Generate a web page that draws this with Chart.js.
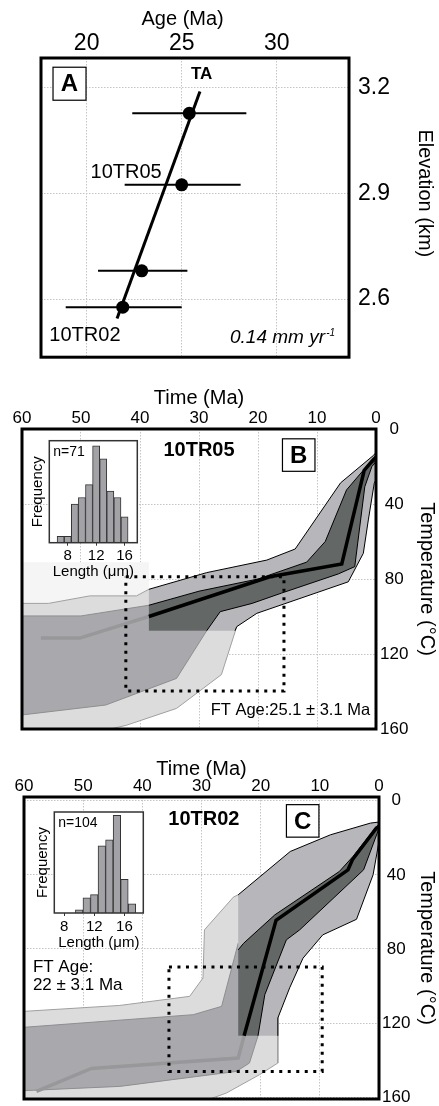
<!DOCTYPE html>
<html>
<head>
<meta charset="utf-8">
<script src="https://cdn.jsdelivr.net/npm/chart.js@4.4.1/dist/chart.umd.min.js"></script>
<style>
  html, body { margin: 0; padding: 0; background: #fff; overflow: hidden; }
  #page { position: relative; width: 439px; height: 1106px; overflow: hidden; background: #fff; }
  canvas { position: absolute; left: 0; }
</style>
</head>
<body>
<div id="page">
  <canvas id="chartA" width="439" height="380" style="top:0px"></canvas>
  <canvas id="chartB" width="439" height="390" style="top:370px"></canvas>
  <canvas id="chartC" width="439" height="380" style="top:740px"></canvas>
  <canvas id="histB" width="125" height="148" style="left:20px;top:436px"></canvas>
  <canvas id="histC" width="125" height="148" style="left:25px;top:807px"></canvas>
</div>
<script>
// ---- Panel A: age vs elevation ----
const aAge = [25.4, 25.0, 22.9, 21.9];
const aElev = [3.127, 2.924, 2.680, 2.577];
const aAgeLo = [22.4, 22.0, 20.6, 18.9];
const aAgeHi = [28.4, 28.1, 25.3, 25.0];
const aFit = [[21.6, 2.545], [25.96, 3.189]];
const aAgeTicks = [20, 25, 30];
const aElevTicks = [2.6, 2.9, 3.2];

// ---- Panels B / C: time-temperature histories [Ma, degC] ----
const timeTicks = [60, 50, 40, 30, 20, 10, 0];
const tempTicks = [0, 40, 80, 120, 160];

// 10TR05
const bFaint = [[60, 71], [38.5, 71], [38.5, 99.7], [60, 99.7]];
const bAccOld = [[60, 93], [55.5, 93], [48.5, 89], [40.6, 89], [38.5, 85.5], [24, 95], [23.6, 105.4], [26.2, 131], [33.8, 149], [42.3, 158], [45, 160], [60, 160]];
const bGoodOld = [[60, 99.7], [50, 99.7], [38.5, 94], [32, 100], [28.7, 107.6], [33.8, 133], [45.8, 147.2], [60, 152.5]];
const bPathOld = [[56.8, 111.5], [50.2, 111.5], [38.5, 100]];
const bAccTop = [[38.5, 85.5], [28.7, 76.6], [18.5, 69.9], [13.7, 64], [6.0, 28.7], [0.4, 14], [0, 12.5]];
const bAccBot = [[23.9, 107.6], [23.6, 105.4], [20.2, 98.3], [4.7, 81.5], [2.15, 66.3], [1.3, 48.5], [0.3, 29], [0, 27]];
const bGoodTop = [[38.5, 94], [30, 86.5], [20, 80], [11.75, 71], [8.6, 60], [5, 32.5], [2.15, 22], [0, 16.5]];
const bGoodBot = [[28.7, 107.6], [26.4, 97.4], [21, 93], [16, 87.5], [6.4, 77.3], [3.6, 73.4], [1.9, 30.8], [0.7, 20], [0, 17.5]];
const bPath = [[38.5, 100], [18, 78.8], [5.8, 72], [2, 22], [0.5, 16.5], [0, 15]];
const bCorner = [38.5, 107.6];
const bWindow = [[42.4, 78.8], [15.6, 78.8], [15.6, 139.7], [42.4, 139.7], [42.4, 78.8]];

// 10TR02
const cAccOld = [[60, 113.7], [43.8, 110.5], [32, 105.6], [29.75, 95.7], [29.5, 69.7], [24.6, 52], [23.8, 50.8], [17.1, 100], [17.1, 126.9], [17.1, 141.6], [20.2, 147.9], [25.8, 157.8], [28.6, 161], [60, 161]];
const cGoodOld = [[60, 122.3], [31.4, 115.5], [26.6, 111], [23.8, 77], [21, 110], [20.45, 126.9], [21.9, 141.6], [24.1, 146.1], [43.8, 154.2], [60, 156.5]];
const cPathOld = [[57.9, 156.9], [48.6, 144.5], [23.8, 138.9], [22.8, 126.9]];
const cAccTop = [[23.8, 50.8], [15.0, 27.4], [8.2, 18.4], [1.45, 12.1], [0, 11.5]];
const cAccBot = [[17.1, 126.9], [17.1, 117.3], [15.1, 101], [12.85, 85], [9.5, 72.4], [3.8, 64], [1.0, 40], [0, 22]];
const cGoodTop = [[23.8, 80.5], [22.9, 77], [17.6, 61.6], [6.7, 38.2], [4.4, 30.1], [0.45, 14], [0, 13]];
const cGoodBot = [[20.45, 126.9], [19.3, 104.7], [15.66, 75.1], [13.4, 69.7], [2.6, 37.3], [0.3, 17.5], [0, 15]];
const cPath = [[22.8, 126.9], [17.4, 64.5], [5.24, 37.3], [4.5, 31.9], [0.45, 14.8], [0, 14]];
const cCorner = [23.8, 126.9];
const cWindow = [[35.5, 89.8], [9.6, 89.8], [9.6, 146.1], [35.5, 146.1], [35.5, 89.8]];

// track length histograms
const bLen = [7, 8, 9, 10, 11, 12, 13, 14, 15, 16];
const bCount = [1, 1, 6, 7, 9, 15, 13, 8, 7, 4];
const cLen = [10, 11, 12, 13, 14, 15, 16, 17];
const cCount = [1, 5, 6, 22, 24, 32, 11, 3];
const lenTicks = [8, 12, 16];

const FF = "'Liberation Sans', Arial, Helvetica, sans-serif";
Chart.defaults.font.family = FF;
Chart.defaults.color = '#000';
const GRID = '#c4c4c4';
const LIGHT = '#dcdcdc', MID = '#a9a9ad', ACC = '#b7b7bb', GOOD = '#636866';

function fixedTicks(values) {
    return s => { s.ticks = values.map(v => ({ value: v })); };
}

function poly(data, fill, border, bw) {
    return { data, showLine: true, fill: 'shape', backgroundColor: fill,
        borderColor: border || 'rgba(0,0,0,0)', borderWidth: bw || 1, pointRadius: 0 };
}

function path(data, color, width, dash) {
    return { data, showLine: true, fill: false, borderColor: color, borderWidth: width,
        borderDash: dash || [], borderCapStyle: 'butt', pointRadius: 0 };
}

// bottom-to-top list -> chart.js order (lower order drawn on top)
function stack(list) {
    return list.map((d, i) => Object.assign(d, { order: list.length - i }));
}

// frame, panel letter boxes and annotations
function overlay(boxes, texts) {
    return {
        id: 'overlay',
        afterDatasetsDraw(chart) {
            const { ctx, chartArea: a, scales: { x, y } } = chart;
            ctx.save();
            boxes.forEach(b => {
                const cx = x.getPixelForValue(b.x), cy = y.getPixelForValue(b.y), h = b.size / 2;
                ctx.fillStyle = '#fff';
                ctx.fillRect(cx - h, cy - h, b.size, b.size);
                ctx.lineWidth = 1.2;
                ctx.strokeStyle = '#000';
                ctx.strokeRect(cx - h, cy - h, b.size, b.size);
                ctx.fillStyle = '#000';
                ctx.font = 'bold 24px ' + FF;
                ctx.textAlign = 'center';
                ctx.textBaseline = 'middle';
                ctx.fillText(b.text, cx, cy + 1);
            });
            texts.forEach(t => {
                const px = t.px !== undefined ? t.px : x.getPixelForValue(t.x);
                const py = t.py !== undefined ? t.py : y.getPixelForValue(t.y);
                ctx.save();
                ctx.translate(px, py);
                if (t.rotate) ctx.rotate(t.rotate * Math.PI / 180);
                ctx.font = t.font;
                ctx.fillStyle = '#000';
                ctx.textAlign = t.align || 'center';
                ctx.textBaseline = 'middle';
                ctx.fillText(t.text, 0, 0);
                ctx.restore();
            });
            ctx.lineWidth = 3;
            ctx.strokeStyle = '#000';
            ctx.strokeRect(a.left, a.top, a.right - a.left, a.bottom - a.top);
            ctx.restore();
        }
    };
}

const common = {
    responsive: false,
    animation: false,
    events: [],
    plugins: { legend: { display: false }, tooltip: { enabled: false } }
};

// ---------- Panel A ----------
const errorBars = aAge.map((_, i) => path([[aAgeLo[i], aElev[i]], [aAgeHi[i], aElev[i]]], '#000', 2));
new Chart(document.getElementById('chartA'), {
    type: 'scatter',
    data: {
        datasets: stack([
            ...errorBars,
            path(aFit, '#000', 3),
            { data: aAge.map((v, i) => [v, aElev[i]]), pointRadius: 6.5, backgroundColor: '#000', borderColor: '#000', borderWidth: 0 }
        ])
    },
    options: Object.assign({}, common, {
        layout: { padding: { left: 41, bottom: 21 } },
        scales: {
            x: {
                type: 'linear', position: 'top', min: 17.6, max: 33.8,
                afterFit: s => { s.height = 58; }, afterBuildTicks: fixedTicks(aAgeTicks),
                ticks: { padding: 1, font: { size: 23 }, maxRotation: 0 },
                grid: { color: GRID, drawTicks: false }, border: { display: false, dash: [1.5, 1.5] }
            },
            y: {
                type: 'linear', position: 'right', min: 2.435, max: 3.284,
                afterFit: s => { s.width = 90; }, afterBuildTicks: fixedTicks(aElevTicks),
                ticks: { padding: 9, font: { size: 23 }, callback: v => v.toFixed(1) },
                grid: { color: GRID, drawTicks: false }, border: { display: false, dash: [1.5, 1.5] }
            }
        }
    }),
    plugins: [overlay(
        [{ text: 'A', x: 19.1, y: 3.211, size: 33 }],
        [
            { text: 'Age (Ma)', x: 25.05, py: 19, font: '20px ' + FF },
            { text: 'Elevation (km)', px: 425, y: 2.9, rotate: 90, font: '20px ' + FF },
            { text: 'TA', x: 26.05, y: 3.239, font: 'bold 17px ' + FF },
            { text: '10TR05', x: 23.95, y: 2.958, align: 'right', font: '20px ' + FF },
            { text: '10TR02', x: 18.04, y: 2.497, align: 'left', font: '20px ' + FF },
            { text: '0.14 mm yr', x: 32.54, y: 2.49, align: 'right', font: 'italic 19px ' + FF },
            { text: '-1', x: 32.6, y: 2.504, align: 'left', font: 'italic 10px ' + FF }
        ]
    )]
});

// ---------- Panels B and C ----------
function historyChart(id, d) {
    const accPoly = [...d.accTop, ...d.accBot.slice().reverse(), d.corner];
    const goodPoly = [...d.goodTop, ...d.goodBot.slice().reverse(), d.corner];
    const layers = [];
    if (d.faint) layers.push(poly(d.faint, '#f5f5f5'));
    layers.push(
        poly(d.accOld, LIGHT, '#a0a0a0', 1),
        poly(d.goodOld, MID, '#8e8e90', 1),
        path(d.pathOld, '#98989a', 3.5),
        poly(accPoly, ACC),
        path(d.accTop, '#000', 1),
        path(d.accBot, '#000', 1),
        poly(goodPoly, GOOD),
        path(d.goodTop, '#000', 1),
        path(d.goodBot, '#000', 1),
        path(d.path, '#000', 3.5),
        path(d.window, '#000', 3, [3, 5.5])
    );
    new Chart(document.getElementById(id), {
        type: 'scatter',
        data: { datasets: stack(layers) },
        options: Object.assign({}, common, {
            layout: { padding: { left: d.left, bottom: d.bottom } },
            scales: {
                x: {
                    type: 'linear', position: 'top', reverse: true, min: 0, max: 60,
                    afterFit: s => { s.height = d.top; }, afterBuildTicks: fixedTicks(timeTicks),
                    ticks: { padding: 0, font: { size: 17 }, maxRotation: 0, autoSkip: false },
                    grid: { color: GRID, drawTicks: false }, border: { display: false, dash: [1.5, 1.5] },
                    title: { display: true, text: 'Time (Ma)', font: { size: 20 }, padding: { top: d.titleTop, bottom: 0 } }
                },
                y: {
                    type: 'linear', position: 'right', reverse: true, min: d.yMin, max: d.yMax,
                    afterFit: s => { s.width = d.right; }, afterBuildTicks: fixedTicks(tempTicks),
                    ticks: { padding: d.tickPad, crossAlign: 'center', font: { size: 17 } },
                    grid: { color: GRID, drawTicks: false }, border: { display: false, dash: [1.5, 1.5] },
                    title: { display: true, text: 'Temperature (°C)', font: { size: 20 }, padding: { top: d.titleRight, bottom: 0 } }
                }
            }
        }),
        plugins: [overlay(d.boxes, d.texts)]
    });
}

historyChart('chartB', {
    faint: bFaint, accOld: bAccOld, goodOld: bGoodOld, pathOld: bPathOld,
    accTop: bAccTop, accBot: bAccBot, goodTop: bGoodTop, goodBot: bGoodBot,
    path: bPath, corner: bCorner, window: bWindow,
    left: 22, bottom: 31, top: 59, right: 63, titleTop: 16.7, titleRight: 0.7, tickPad: 4,
    yMin: 0, yMax: 160,
    boxes: [{ text: 'B', x: 13.1, y: 13.9, size: 32.5 }],
    texts: [
        { text: '10TR05', x: 30, y: 11.2, font: 'bold 20px ' + FF },
        { text: 'FT Age:25.1 ± 3.1 Ma', x: 1.0, y: 150.3, align: 'right', font: '16.5px ' + FF }
    ]
});

historyChart('chartC', {
    accOld: cAccOld, goodOld: cGoodOld, pathOld: cPathOld,
    accTop: cAccTop, accBot: cAccBot, goodTop: cGoodTop, goodBot: cGoodBot,
    path: cPath, corner: cCorner, window: cWindow,
    left: 24, bottom: 21, top: 57, right: 60, titleTop: 17.7, titleRight: 0, tickPad: 3,
    yMin: -2, yMax: 161,
    boxes: [{ text: 'C', x: 12.9, y: 10.9, size: 32.5 }],
    texts: [
        { text: '10TR02', x: 29.6, y: 10.3, font: 'bold 20px ' + FF },
        { text: 'FT Age:', x: 58.5, y: 89.8, align: 'left', font: '17px ' + FF },
        { text: '22 ± 3.1 Ma', x: 58.5, y: 99.7, align: 'left', font: '17px ' + FF }
    ]
});

// ---------- inset histograms ----------
function insetFrame(nText) {
    return {
        id: 'insetFrame',
        beforeDatasetsDraw(chart) {
            const { ctx, chartArea: a } = chart;
            ctx.save();
            ctx.fillStyle = '#fff';
            ctx.fillRect(a.left, a.top, a.right - a.left, a.bottom - a.top);
            ctx.restore();
        },
        afterDatasetsDraw(chart) {
            const { ctx, chartArea: a } = chart;
            ctx.save();
            ctx.lineWidth = 1.5;
            ctx.strokeStyle = '#333';
            ctx.strokeRect(a.left, a.top, a.right - a.left, a.bottom - a.top);
            ctx.fillStyle = '#000';
            ctx.font = '14px ' + FF;
            ctx.textAlign = 'left';
            ctx.textBaseline = 'middle';
            ctx.fillText(nText, a.left + 4, a.top + 11);
            ctx.restore();
        }
    };
}

function histogram(id, lens, counts, o) {
    new Chart(document.getElementById(id), {
        type: 'bar',
        data: {
            datasets: [{
                data: lens.map((x, i) => ({ x, y: counts[i] })),
                backgroundColor: '#a3a3a7', borderColor: '#333', borderWidth: 1,
                barPercentage: 1, categoryPercentage: 1
            }]
        },
        options: Object.assign({}, common, {
            layout: { padding: { top: o.top, right: o.right } },
            scales: {
                x: {
                    type: 'linear', min: o.xMin, max: o.xMax, offset: false,
                    afterFit: s => { s.height = o.xh; }, afterBuildTicks: fixedTicks(lenTicks),
                    ticks: { padding: o.tp, font: { size: 15 }, maxRotation: 0 },
                    grid: { offset: false, drawOnChartArea: false, tickLength: 3, color: '#333' },
                    border: { display: false },
                    title: { display: true, text: 'Length (μm)', font: { size: 15 }, padding: { top: 0, bottom: 3.5 } }
                },
                y: {
                    min: 0, max: o.yMax,
                    afterFit: s => { s.width = 29.3; },
                    ticks: { display: false }, grid: { display: false }, border: { display: false },
                    title: { display: true, text: 'Frequency', font: { size: 15 }, padding: { top: 8.5, bottom: 0 } }
                }
            }
        }),
        plugins: [insetFrame(o.n)]
    });
}

histogram('histB', bLen, bCount, { n: 'n=71', top: 4.7, right: 7.7, xh: 41.3, tp: 1.3, xMin: 5.4, xMax: 17.8, yMax: 15.8 });
histogram('histC', cLen, cCount, { n: 'n=104', top: 5, right: 6.7, xh: 42, tp: 1.7, xMin: 6.7, xMax: 18.5, yMax: 33.1 });
</script>
</body>
</html>
